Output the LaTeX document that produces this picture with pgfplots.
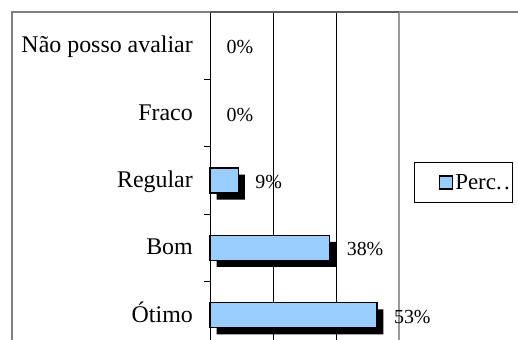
\documentclass[border=0pt]{standalone}
\usepackage{pgfplots}
\pgfplotsset{compat=1.18}
\usepackage{fontspec}
\setmainfont{Liberation Serif}
\usetikzlibrary{shadows}
\definecolor{barblue}{HTML}{99CCFF}
\definecolor{framegray}{HTML}{808080}
\definecolor{edgegray}{HTML}{999999}
\definecolor{topgray}{HTML}{606060}

% share of answers per rating, bottom to top
\pgfplotstableread{
pos value
0 53
1 38
2 9
}\avaliacao
% ratings nobody chose
\pgfplotstableread{
pos value
3 0
4 0
}\semvotos

\begin{document}
\begin{tikzpicture}
\path[use as bounding box] (0bp,0bp) rectangle (518bp,340bp);
\clip (0bp,0bp) rectangle (518bp,340bp);
% outer chart frame
\draw[framegray, line width=1.3bp] (12bp,-20bp) -- (12bp,328bp) -- (540bp,328bp);
\begin{axis}[
  at={(210bp,-9bp)}, anchor=south west,
  scale only axis, width=189bp, height=337bp,
  xbar, bar width=25bp,
  xmin=0, xmax=60, ymin=-0.5, ymax=4.5,
  clip=false,
  axis line style={draw=none},
  xtick={20,40}, xticklabels={}, xmajorgrids,
  grid style={black, line width=0.8bp},
  ytick={0,1,2,3,4},
  yticklabels={Ótimo,Bom,Regular,Fraco,Não posso avaliar},
  minor ytick={0.5,1.5,2.5,3.5},
  tick pos=left,
  tick align=outside,
  major tick length=0pt,
  minor tick length=6bp,
  minor tick style={black, line width=0.8bp},
  yticklabel style={font=\fontsize{24}{24}\selectfont, anchor=base east, inner sep=0pt, xshift=-17bp, yshift=-7bp},
  point meta=x,
  /pgf/number format/assume math mode=true,
  nodes near coords={\pgfmathprintnumber{\pgfplotspointmeta}\%},
  nodes near coords style={font=\fontsize{20}{20}\selectfont, anchor=base west, inner sep=0pt, xshift=16.5bp, yshift=-8bp},
  legend style={at={(1.0794,0.494)}, anchor=west, draw=black, line width=0.8bp,
    inner xsep=0pt, inner ysep=10bp, font=\fontsize{23}{23}\selectfont,
    /tikz/every even column/.append style={column sep=1bp}},
  legend cell align=left,
]
\addplot[bar shift=0pt, fill=barblue, draw=black, line width=1.2bp,
  drop shadow={shadow xshift=6.5bp, shadow yshift=-6.5bp, fill=black, draw=none, opacity=1},
  legend image code/.code={%
    % blank space on the left, then the swatch (no shadow)
    \pgfpathmoveto{\pgfpointorigin}\pgfpathlineto{\pgfpoint{25bp}{0bp}}\pgfusepath{}%
    \pgfsetfillcolor{barblue}\pgfsetstrokecolor{black}\pgfsetlinewidth{1.8bp}%
    \pgfpathrectangle{\pgfpoint{25bp}{-6.5bp}}{\pgfpoint{13bp}{13bp}}%
    \pgfusepath{fill,stroke}}]
  table[x=value, y=pos] {\avaliacao};
\addlegendentry{Perc.\kern2.5bp.}
\addplot[bar shift=0pt, draw=none, fill=none, forget plot] table[x=value, y=pos] {\semvotos};
% axis edges
\draw[black, line width=1bp] (rel axis cs:0,0) -- (rel axis cs:0,1);
\draw[edgegray, line width=2bp] (rel axis cs:1,0) -- (rel axis cs:1,1);
\draw[topgray, line width=1.3bp] (rel axis cs:0,1) -- (rel axis cs:1,1);
\end{axis}
\end{tikzpicture}
\end{document}
